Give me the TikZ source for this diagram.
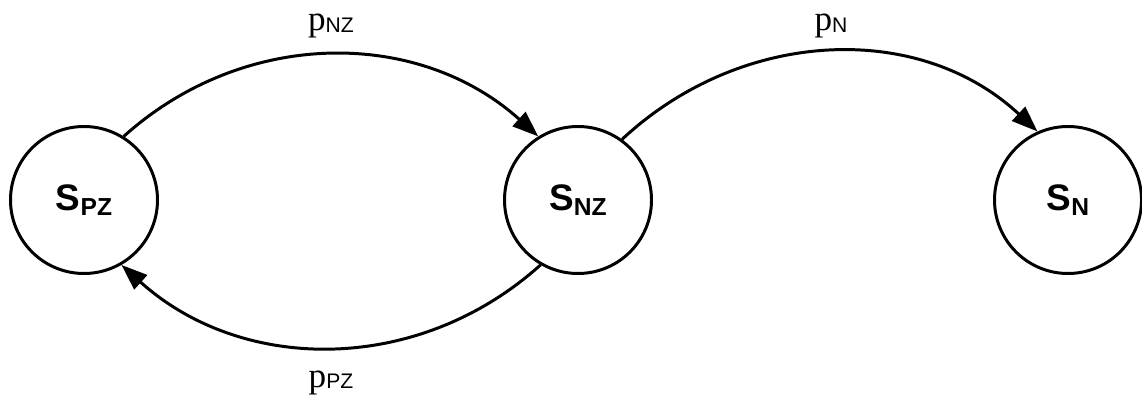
\documentclass[tikz,border=0pt]{standalone}
\usepackage{fontspec}
\setmainfont{Liberation Serif}
\newfontfamily\statefont{Liberation Sans}
\usetikzlibrary{arrows.meta}
\newcommand{\stsub}[1]{\raisebox{-0.1cm}{\fontsize{14}{16}\selectfont #1}}
\newcommand{\prsub}[1]{\raisebox{-0.03cm}{\statefont\fontsize{12}{14}\selectfont #1}}

\begin{document}
\begin{tikzpicture}[
    stnode/.style={draw, circle, line width=1.7pt, minimum size=2.94cm, inner sep=0pt,
        font=\statefont\bfseries\fontsize{21}{25}\selectfont},
    prob/.style={font=\fontsize{20}{24}\selectfont, inner sep=0pt, anchor=base},
    trans/.style={line width=1.7pt, -{Triangle[length=0.52cm, width=0.38cm]}}
]
    \useasboundingbox (0,0) rectangle (22.84,7.88);

    % States
    \node[stnode] (spz) at (1.68,3.88) {S\stsub{PZ}};
    \node[stnode] (snz) at (11.56,3.88) {S\stsub{NZ}};
    \node[stnode] (sn) at (21.36,3.88) {S\stsub{N}};

    % Transitions
    \draw[trans] (spz.58) to[out=42, in=138] (snz.122);
    \draw[trans] (snz.54) to[out=43, in=137] (sn.114);
    \draw[trans] (snz.240) to[out=222, in=318] (spz.300);

    % Probabilities
    \node[prob] (lnz) at (6.62,7.26) {p\prsub{NZ}};
    \node[prob] (ln) at (16.62,7.26) {p\prsub{N}};
    \node[prob] (lpz) at (6.62,0.14) {p\prsub{PZ}};
\end{tikzpicture}
\end{document}
